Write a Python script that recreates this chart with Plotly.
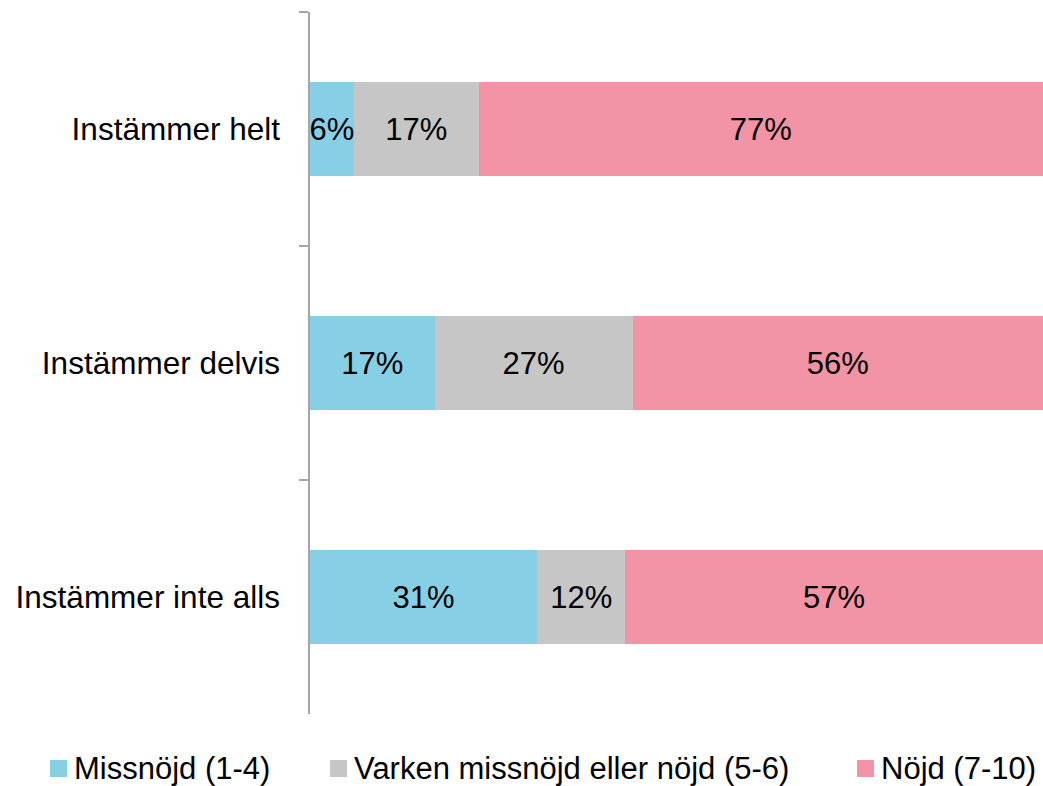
import plotly.graph_objects as go

categories = ["Instämmer helt", "Instämmer delvis", "Instämmer inte alls"]
series_names = ["Missnöjd (1-4)", "Varken missnöjd eller nöjd (5-6)", "Nöjd (7-10)"]
missnojd = [6, 17, 31]
varken = [17, 27, 12]
nojd = [77, 56, 57]
colors = ["#87CFE5", "#C6C6C6", "#F293A6"]

FONT = "Liberation Sans, Arial, sans-serif"
W, H = 1043, 786
ML, MR, MT, MB = 310, 0, 12, 72
PW, PH = W - ML - MR, H - MT - MB

def px_x(px):
    return (px - ML) / PW

def px_y(py):
    return (H - MB - py) / PH

fig = go.Figure()
for name, vals, col in zip(series_names, [missnojd, varken, nojd], colors):
    fig.add_trace(go.Bar(
        y=categories, x=vals, name=name, orientation="h",
        marker=dict(color=col, line=dict(width=0)),
        text=[f"{v}%" for v in vals], textposition="inside", textangle=0,
        insidetextanchor="middle", constraintext="none",
        textfont=dict(family=FONT, size=31, color="black"),
        hoverinfo="skip", showlegend=False,
    ))

# custom legend (layout positions in page pixels)
legend_square_x = [50, 330, 857]
legend_text_x = [72, 352, 879]
sq = 17
ly0, ly1 = 760, 777
shapes, annotations = [], []
for name, col, sx, tx in zip(series_names, colors, legend_square_x, legend_text_x):
    shapes.append(dict(type="rect", xref="paper", yref="paper",
                       x0=px_x(sx), x1=px_x(sx + sq), y0=px_y(ly1), y1=px_y(ly0),
                       fillcolor=col, line=dict(width=0)))
    annotations.append(dict(xref="paper", yref="paper", x=px_x(tx), y=px_y((ly0 + ly1) / 2),
                            xanchor="left", yanchor="middle", text=name, showarrow=False,
                            font=dict(family=FONT, size=31, color="black")))

fig.update_layout(
    barmode="stack", bargap=0.6,
    width=W, height=H,
    margin=dict(l=ML, r=MR, t=MT, b=MB, autoexpand=False),
    paper_bgcolor="white", plot_bgcolor="white",
    font=dict(family=FONT, size=32, color="black"),
    showlegend=False,
    shapes=shapes, annotations=annotations,
    uniformtext=dict(minsize=31, mode="show"),
)
fig.update_xaxes(range=[0, 100], visible=False, fixedrange=True)
fig.update_yaxes(
    autorange="reversed", tickson="boundaries", ticks="outside", ticklen=9,
    tickcolor="#A6A6A6", tickwidth=1.5, showline=True, linecolor="#A6A6A6",
    linewidth=1.5, showgrid=False, zeroline=False, ticklabelstandoff=22,
    tickfont=dict(family=FONT, size=31.5, color="black"),
)

fig.write_html(
    "out.html",
    config={"displayModeBar": False},
    post_script="document.body.style.margin='0';document.body.style.overflow='hidden';",
)
